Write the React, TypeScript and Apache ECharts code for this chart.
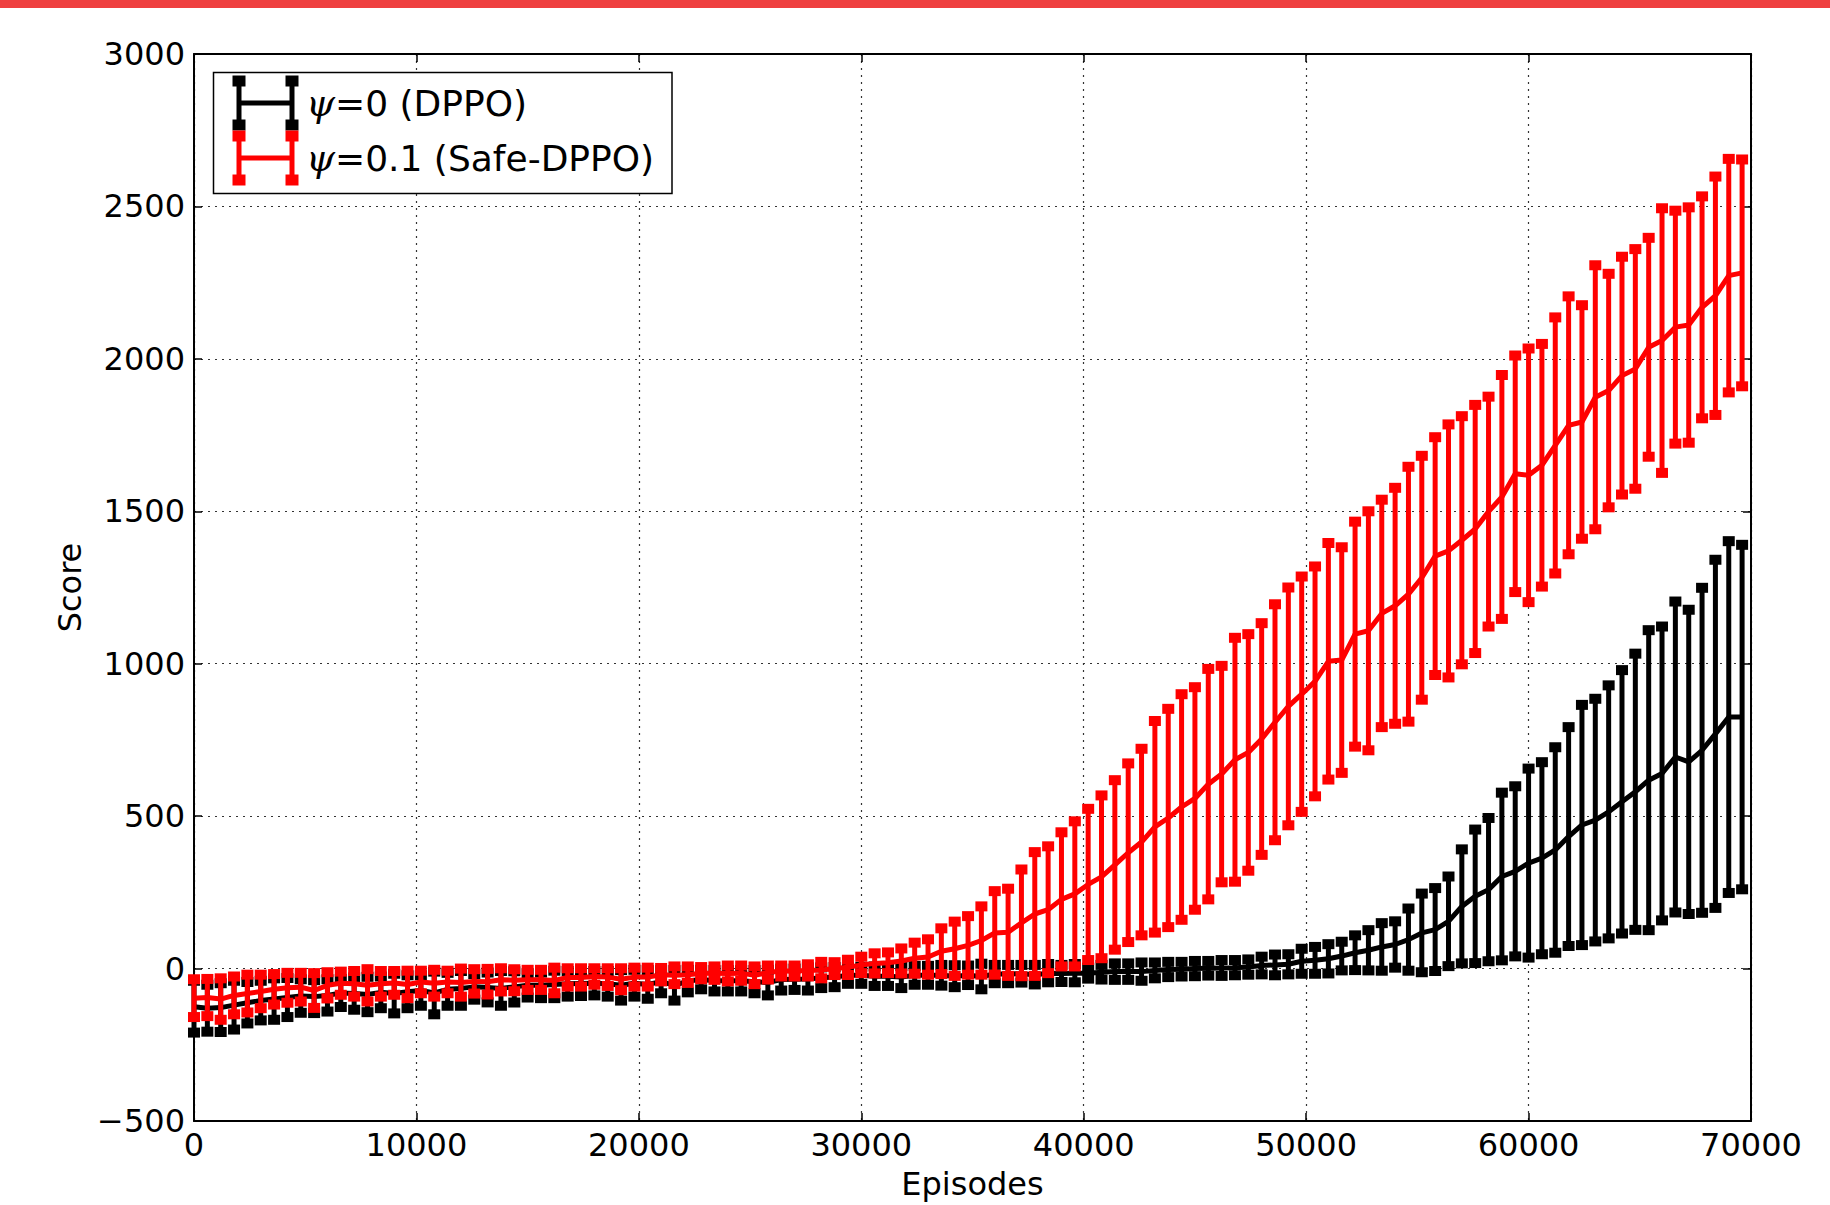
import React, { useEffect, useRef } from "react";
import * as echarts from "echarts";

// Episodes are sampled every 600 episodes, from 0 to 69600 (117 points)
const EPISODE_STEP = 600;
const POINT_COUNT = 117;
const episodes: number[] = Array.from({ length: POINT_COUNT }, (_, i) => i * EPISODE_STEP);

const xTicks = [0, 10000, 20000, 30000, 40000, 50000, 60000, 70000];
const yTicks = [-500, 0, 500, 1000, 1500, 2000, 2500, 3000];

// psi = 0 (DPPO) — black
const dppoMean: number[] = [
  -125, -130, -128, -120, -112, -105, -100, -95, -90, -92, -88, -80, -82, -85, -78, -82, -76, -72, -80, -68,
  -65, -60, -62, -65, -60, -55, -55, -52,
  -50, -49, -48, -50, -55, -48, -52, -43, -55, -41, -36, -40, -40, -40, -43, -46, -36, -35, -34, -30,
  -28, -22, -22, -25, -25, -28, -22, -22,
  -22, -25, -22, -26, -18, -18, -17, -20, -15, -16, -15, -15, -12, -10, -10, -10, -6, -3, -2, 0,
  1, 2, 3, 5, 10, 12, 14, 24,
  27, 32, 41, 52, 60, 71, 79, 95, 117, 128, 155, 204, 237, 259, 302, 319, 346, 362, 389, 433,
  471, 487, 514, 547, 580, 618, 640, 694, 678, 716, 770, 825, 825,
];
const dppoErr: number[] = [
  85, 77, 80, 80, 68, 65, 68, 64, 55, 54, 53, 46, 53, 58, 52, 65, 54, 50, 70, 54,
  57, 42, 49, 57, 51, 40, 42, 45,
  42, 41, 40, 42, 50, 44, 47, 38, 50, 37, 32, 35, 35, 35, 38, 42, 36, 35, 38, 34,
  33, 28, 28, 32, 32, 36, 31, 31,
  34, 36, 32, 42, 30, 30, 29, 32, 30, 28, 30, 18, 24, 27, 27, 30, 26, 25, 24, 25,
  24, 26, 25, 25, 29, 34, 33, 41,
  44, 48, 47, 57, 66, 78, 76, 102, 129, 136, 147, 187, 219, 235, 275, 279, 310, 315, 337, 359,
  394, 398, 415, 432, 453, 492, 482, 510, 499, 533, 571, 577, 565,
];

// psi = 0.1 (Safe-DPPO) — red
const safeMean: number[] = [
  -97, -95, -100, -88, -82, -75, -68, -63, -61, -72, -55, -48, -50, -55, -50, -47, -52, -44, -48, -44,
  -46, -42, -43, -37, -38, -37, -37, -39,
  -29, -29, -26, -28, -35, -28, -28, -20, -22, -20, -15, -15, -16, -15, -22, -13, -8, -8, -6, -5,
  0, 4,
  12, 17, 19, 25, 34, 38, 57, 65, 76, 92, 117, 119, 150, 179, 193, 227, 245, 276, 301,
  340, 380, 415, 465, 494, 530, 558, 605, 638, 685, 709, 753, 808, 860, 900, 942, 1008, 1012, 1097, 1108,
  1165, 1190,
  1228, 1282, 1353, 1370, 1405, 1442, 1499, 1547, 1623, 1618, 1651, 1716, 1782, 1793, 1874, 1896, 1945, 1967,
  2038, 2060, 2104, 2111, 2169, 2207, 2273, 2282,
];
const safeErr: number[] = [
  62, 61, 68, 62, 62, 55, 50, 49, 47, 57, 43, 38, 42, 53, 42, 39, 45, 37, 44, 37,
  46, 40, 42, 38, 36, 33, 33, 42,
  30, 30, 27, 29, 36, 31, 31, 22, 29, 27, 20, 22, 26, 25, 29, 23, 18, 18, 20, 27,
  21, 25,
  27, 33, 34, 41, 51, 58, 75, 89, 96, 112, 137, 143, 175, 203, 208, 220, 238, 248, 267,
  278, 293, 306, 347, 358, 370, 365, 378, 355, 400, 388, 380, 387, 390, 386, 377, 388, 370, 369, 392,
  373, 387,
  418, 400, 390, 415, 407, 407, 377, 400, 388, 416, 398, 420, 423, 383, 433, 383, 390, 393,
  359, 434, 382, 386, 364, 391, 383, 372,
];

const seriesLabels = ["=0 (DPPO)", "=0.1 (Safe-DPPO)"];
const seriesColors = ["#000000", "#ff0000"];

const FONT = "DejaVu Sans";

function errorBarRenderer(color: string) {
  return (params: any, api: any) => {
    const x = api.value(0);
    const lo = api.value(1);
    const hi = api.value(2);
    const pLo = api.coord([x, lo]);
    const pHi = api.coord([x, hi]);
    const capW = 12;
    const capH = 10;
    return {
      type: "group",
      children: [
        {
          type: "line",
          shape: { x1: pLo[0], y1: pLo[1], x2: pHi[0], y2: pHi[1] },
          style: { stroke: color, lineWidth: 5 },
        },
        {
          type: "rect",
          shape: { x: pHi[0] - capW / 2, y: pHi[1] - capH / 2, width: capW, height: capH },
          style: { fill: color },
        },
        {
          type: "rect",
          shape: { x: pLo[0] - capW / 2, y: pLo[1] - capH / 2, width: capW, height: capH },
          style: { fill: color },
        },
      ],
    };
  };
}

function legendIcon(cx1: number, cx2: number, cy: number, color: string) {
  const half = 22;
  const capW = 13;
  const capH = 11;
  const els: any[] = [
    { type: "line", shape: { x1: cx1, y1: cy, x2: cx2, y2: cy }, style: { stroke: color, lineWidth: 5 } },
  ];
  [cx1, cx2].forEach((cx) => {
    els.push({ type: "line", shape: { x1: cx, y1: cy - half, x2: cx, y2: cy + half }, style: { stroke: color, lineWidth: 5 } });
    els.push({ type: "rect", shape: { x: cx - capW / 2, y: cy - half - capH / 2, width: capW, height: capH }, style: { fill: color } });
    els.push({ type: "rect", shape: { x: cx - capW / 2, y: cy + half - capH / 2, width: capW, height: capH }, style: { fill: color } });
  });
  return els;
}

export default function App() {
  const ref = useRef<HTMLDivElement>(null);

  useEffect(() => {
    if (!ref.current) return;
    const chart = echarts.init(ref.current, null, { renderer: "svg" });

    const dppoBars = episodes.map((x, i) => [x, dppoMean[i] - dppoErr[i], dppoMean[i] + dppoErr[i]]);
    const safeBars = episodes.map((x, i) => [x, safeMean[i] - safeErr[i], safeMean[i] + safeErr[i]]);
    const dppoLine = episodes.map((x, i) => [x, dppoMean[i]]);
    const safeLine = episodes.map((x, i) => [x, safeMean[i]]);

    const axisLineStyle = { color: "#000", width: 2 };
    const splitStyle = { color: "#333", width: 1.2, type: [2, 5] as any };
    const tickStyle = { show: true, inside: true, length: 8, lineStyle: { color: "#000", width: 1.5 } };
    const fmt = (v: number) => String(v).replace("-", "\u2212");

    const legendRows = [103, 158];

    chart.setOption({
      animation: false,
      backgroundColor: "#ffffff",
      grid: { left: 194, right: 79, top: 54, bottom: 81, containLabel: false },
      xAxis: [
        {
          type: "value",
          min: xTicks[0],
          max: xTicks[xTicks.length - 1],
          interval: 10000,
          position: "bottom",
          name: "Episodes",
          nameLocation: "middle",
          nameGap: 47,
          nameTextStyle: { fontFamily: FONT, fontSize: 32, color: "#000" },
          axisLine: { show: true, onZero: false, lineStyle: axisLineStyle },
          axisTick: tickStyle,
          axisLabel: { fontFamily: FONT, fontSize: 32, color: "#000", margin: 8, formatter: fmt },
          splitLine: { show: true, lineStyle: splitStyle },
        },
        {
          type: "value",
          min: xTicks[0],
          max: xTicks[xTicks.length - 1],
          interval: 10000,
          position: "top",
          axisLine: { show: true, onZero: false, lineStyle: axisLineStyle },
          axisTick: tickStyle,
          axisLabel: { show: false },
          splitLine: { show: false },
        },
      ],
      yAxis: [
        {
          type: "value",
          min: yTicks[0],
          max: yTicks[yTicks.length - 1],
          interval: 500,
          position: "left",
          name: "Score",
          nameLocation: "middle",
          nameRotate: 90,
          nameGap: 108,
          nameTextStyle: { fontFamily: FONT, fontSize: 32, color: "#000" },
          axisLine: { show: true, onZero: false, lineStyle: axisLineStyle },
          axisTick: tickStyle,
          axisLabel: { fontFamily: FONT, fontSize: 32, color: "#000", margin: 9, formatter: fmt },
          splitLine: { show: true, lineStyle: splitStyle },
        },
        {
          type: "value",
          min: yTicks[0],
          max: yTicks[yTicks.length - 1],
          interval: 500,
          position: "right",
          axisLine: { show: true, onZero: false, lineStyle: axisLineStyle },
          axisTick: tickStyle,
          axisLabel: { show: false },
          splitLine: { show: false },
        },
      ],
      series: [
        {
          type: "custom",
          name: "dppo-err",
          renderItem: errorBarRenderer(seriesColors[0]),
          encode: { x: 0, y: [1, 2] },
          data: dppoBars,
          z: 2,
        },
        {
          type: "line",
          name: "dppo",
          data: dppoLine,
          showSymbol: false,
          symbol: "none",
          lineStyle: { color: seriesColors[0], width: 5 },
          z: 2,
        },
        {
          type: "custom",
          name: "safe-err",
          renderItem: errorBarRenderer(seriesColors[1]),
          encode: { x: 0, y: [1, 2] },
          data: safeBars,
          z: 3,
        },
        {
          type: "line",
          name: "safe",
          data: safeLine,
          showSymbol: false,
          symbol: "none",
          lineStyle: { color: seriesColors[1], width: 5 },
          z: 3,
        },
      ],
      graphic: [
        { type: "rect", shape: { x: 0, y: 0, width: 1830, height: 8 }, style: { fill: "#ef4040" }, z: 100 },
        {
          type: "rect",
          z: 100,
          shape: { x: 213.5, y: 72.5, width: 458.5, height: 121 },
          style: { fill: "#ffffff", stroke: "#000000", lineWidth: 1.5 },
        },
        ...legendIcon(239, 292, legendRows[0], seriesColors[0]).map((e) => ({ ...e, z: 101 })),
        ...legendIcon(239, 292, legendRows[1], seriesColors[1]).map((e) => ({ ...e, z: 101 })),
        ...seriesLabels.map((label, i) => ({
          type: "text",
          z: 101,
          x: 306,
          y: legendRows[i],
          style: {
            text: "{psi|\u03c8}" + label,
            fill: "#000",
            fontFamily: FONT,
            fontSize: 36,
            verticalAlign: "middle",
            align: "left",
            rich: {
              psi: { fontFamily: "DejaVu Serif", fontStyle: "italic", fontSize: 37, fill: "#000" },
            },
          },
        })),
      ],
    });

    return () => chart.dispose();
  }, []);

  return (
    <div
      ref={ref}
      style={{ position: "absolute", left: 0, top: 0, width: 1830, height: 1205, background: "#fff" }}
    />
  );
}
